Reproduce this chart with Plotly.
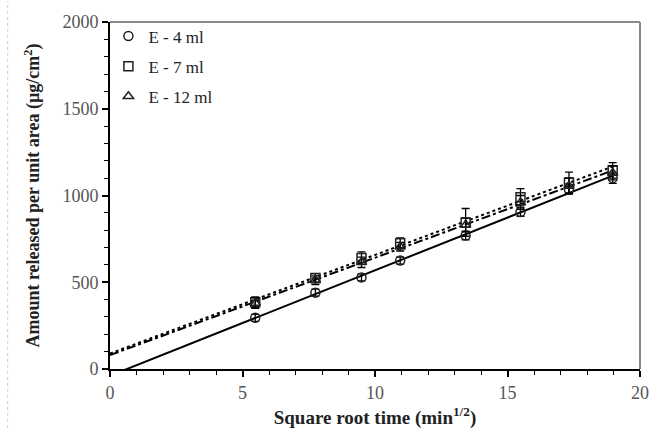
import numpy as np
import plotly.graph_objects as go

# sqrt time (min^1/2)
x_vals = [5.48, 7.75, 9.49, 10.95, 13.42, 15.49, 17.32, 18.97]

e4 = [295, 440, 528, 625, 770, 905, 1035, 1100]
e4_err = [20, 20, 20, 20, 25, 25, 25, 30]
e7 = [385, 525, 640, 725, 845, 990, 1075, 1145]
e7_err = [30, 25, 35, 30, 80, 50, 60, 45]
e12 = [380, 512, 615, 705, 830, 960, 1055, 1130]
e12_err = [30, 25, 30, 25, 40, 40, 45, 40]

series = [
    ("E - 4 ml", e4, e4_err, "circle-open", "solid"),
    ("E - 7 ml", e7, e7_err, "square-open", "dot"),
    ("E - 12 ml", e12, e12_err, "triangle-up-open", "dashdot"),
]

fig = go.Figure()
xf = np.array([0.0, 19.0])
for name, y, err, sym, dash in series:
    k, b = np.polyfit(x_vals, y, 1)
    fig.add_trace(go.Scatter(
        x=xf, y=k * xf + b, mode="lines", showlegend=False,
        line=dict(color="black", width=2, dash=dash), hoverinfo="skip"))
for name, y, err, sym, dash in series:
    fig.add_trace(go.Scatter(
        x=x_vals, y=y, mode="markers", name=name, legendgroup=name,
        marker=dict(symbol=sym, size=9, color="#222", line=dict(width=1.5, color="#222")),
        error_y=dict(type="data", array=err, visible=True, color="black", thickness=1.3, width=4)))

serif = "Liberation Serif, Times New Roman, serif"
fig.update_layout(
    width=651, height=429,
    margin=dict(l=110, r=11, t=22, b=60),
    paper_bgcolor="white", plot_bgcolor="white",
    font=dict(family=serif, color="#333", size=14),
    legend=dict(x=-0.003, y=1.01, xanchor="left", yanchor="top",
                font=dict(family=serif, size=17, color="#222"),
                bgcolor="rgba(0,0,0,0)", itemwidth=30, tracegroupgap=5),
    xaxis=dict(range=[0, 20], tickvals=[0, 5, 10, 15, 20], ticks="outside", ticklen=6,
               tickwidth=1.5, tickcolor="black", showline=True, linecolor="black", linewidth=2,
               showgrid=False, zeroline=False, automargin=False,
               minor=dict(dtick=1, ticks="outside", ticklen=4, tickcolor="black", tickwidth=1.2),
               tickfont=dict(family=serif, size=18, color="#555"),
               title=dict(text="<b>Square root time (min<sup>1/2</sup>)</b>", standoff=10,
                          font=dict(family=serif, size=19, color="#222"))),
    yaxis=dict(range=[0, 2000], tickvals=[0, 500, 1000, 1500, 2000], ticks="outside", ticklen=6,
               tickwidth=1.5, tickcolor="black", showline=True, linecolor="black", linewidth=2,
               showgrid=False, zeroline=False, automargin=False,
               minor=dict(dtick=100, ticks="outside", ticklen=4, tickcolor="black", tickwidth=1.2),
               tickfont=dict(family=serif, size=18, color="#555"),
               title=dict(text="<b>Amount released per unit area (µg/cm<sup>2</sup>)</b>", standoff=18,
                          font=dict(family=serif, size=18, color="#222"))),
    shapes=[
        dict(type="line", xref="paper", yref="paper", x0=0, x1=1, y0=1, y1=1,
             line=dict(color="#888", width=2)),
        dict(type="line", xref="paper", yref="paper", x0=1, x1=1, y0=0, y1=1,
             line=dict(color="#888", width=2)),
        dict(type="line", xref="paper", yref="paper", x0=-0.193, x1=-0.193, y0=-0.17, y1=1.06,
             line=dict(color="#ccc", width=1, dash="dot")),
    ],
)
fig.write_html("out.html")
